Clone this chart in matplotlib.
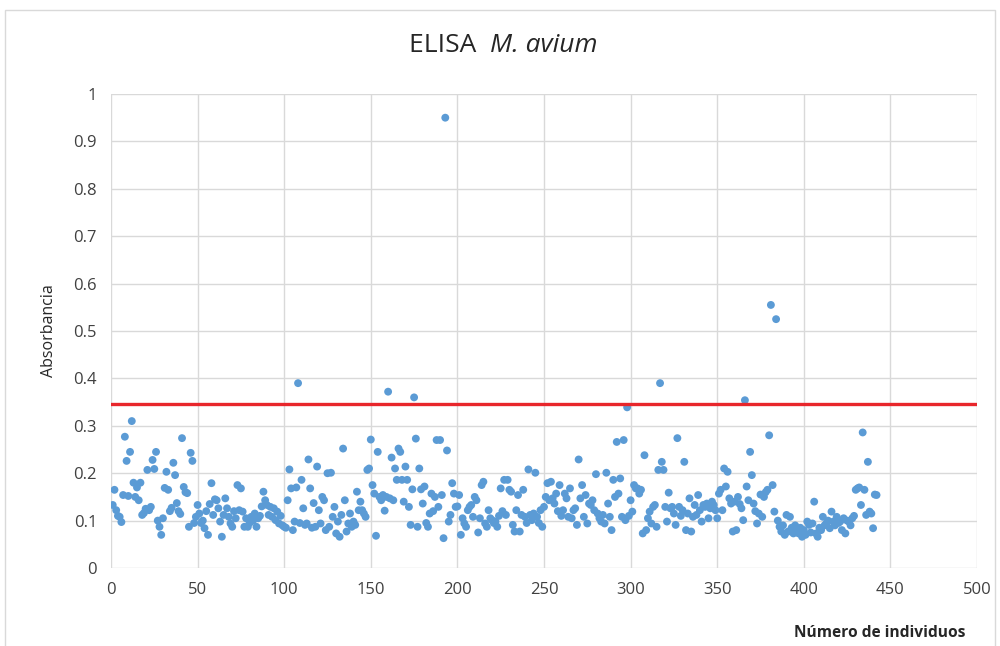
import numpy as np
import matplotlib
matplotlib.use("Agg")
import matplotlib.pyplot as plt
from matplotlib.patches import Rectangle

# Absorbance per individual (individual 1..442)
abs_001_060 = [0.133, 0.165, 0.122, 0.110, 0.108, 0.097, 0.154, 0.277, 0.226, 0.152,
               0.245, 0.310, 0.180, 0.150, 0.170, 0.143, 0.180, 0.112, 0.116, 0.125,
               0.207, 0.122, 0.129, 0.228, 0.209, 0.245, 0.100, 0.087, 0.070, 0.105,
               0.169, 0.203, 0.165, 0.120, 0.127, 0.222, 0.196, 0.137, 0.120, 0.114,
               0.274, 0.171, 0.160, 0.158, 0.087, 0.243, 0.226, 0.095, 0.108, 0.133,
               0.115, 0.095, 0.100, 0.084, 0.120, 0.070, 0.135, 0.179, 0.112, 0.145]
abs_061_125 = [0.143, 0.126, 0.098, 0.066, 0.112, 0.147, 0.126, 0.108, 0.094, 0.087,
               0.120, 0.105, 0.175, 0.122, 0.168, 0.119, 0.087, 0.105, 0.087, 0.095,
               0.108, 0.100, 0.115, 0.087, 0.105, 0.110, 0.130, 0.161, 0.143, 0.133,
               0.112, 0.129, 0.108, 0.126, 0.101, 0.119, 0.094, 0.110, 0.090, 0.087,
               0.085, 0.143, 0.208, 0.168, 0.080, 0.098, 0.170, 0.390, 0.095, 0.186,
               0.126, 0.091, 0.094, 0.229, 0.168, 0.085, 0.137, 0.087, 0.214, 0.122,
               0.094, 0.150, 0.143, 0.080, 0.200]
abs_126_189 = [0.087, 0.201, 0.108, 0.129, 0.073, 0.098, 0.066, 0.112, 0.252, 0.143,
               0.077, 0.094, 0.115, 0.087, 0.098, 0.091, 0.161, 0.122, 0.140, 0.122,
               0.115, 0.108, 0.207, 0.210, 0.271, 0.175, 0.157, 0.068, 0.245, 0.150,
               0.143, 0.154, 0.121, 0.150, 0.372, 0.147, 0.233, 0.143, 0.210, 0.186,
               0.252, 0.245, 0.186, 0.140, 0.214, 0.186, 0.129, 0.091, 0.166, 0.360,
               0.273, 0.087, 0.210, 0.166, 0.136, 0.172, 0.095, 0.087, 0.115, 0.157,
               0.120, 0.150, 0.270, 0.129]
abs_190_252 = [0.270, 0.154, 0.063, 0.950, 0.248, 0.098, 0.112, 0.179, 0.157, 0.129,
               0.130, 0.154, 0.070, 0.105, 0.094, 0.087, 0.122, 0.129, 0.133, 0.108,
               0.150, 0.143, 0.075, 0.105, 0.175, 0.182, 0.094, 0.087, 0.122, 0.105,
               0.101, 0.095, 0.098, 0.087, 0.110, 0.168, 0.120, 0.186, 0.112, 0.186,
               0.165, 0.161, 0.091, 0.077, 0.122, 0.154, 0.077, 0.112, 0.165, 0.108,
               0.095, 0.208, 0.112, 0.101, 0.115, 0.201, 0.108, 0.095, 0.122, 0.087,
               0.129, 0.150, 0.179]
abs_253_316 = [0.143, 0.182, 0.147, 0.136, 0.157, 0.120, 0.175, 0.110, 0.122, 0.157,
               0.147, 0.108, 0.168, 0.105, 0.122, 0.126, 0.091, 0.229, 0.147, 0.175,
               0.108, 0.154, 0.094, 0.136, 0.133, 0.143, 0.122, 0.198, 0.115, 0.105,
               0.098, 0.112, 0.094, 0.201, 0.136, 0.108, 0.080, 0.186, 0.150, 0.266,
               0.157, 0.189, 0.108, 0.270, 0.101, 0.339, 0.110, 0.143, 0.119, 0.175,
               0.168, 0.168, 0.157, 0.165, 0.073, 0.238, 0.080, 0.105, 0.119, 0.094,
               0.129, 0.133, 0.087, 0.207]
abs_317_380 = [0.390, 0.224, 0.207, 0.129, 0.098, 0.159, 0.126, 0.129, 0.115, 0.091,
               0.274, 0.129, 0.110, 0.122, 0.224, 0.080, 0.115, 0.147, 0.077, 0.108,
               0.133, 0.112, 0.154, 0.122, 0.098, 0.133, 0.129, 0.136, 0.105, 0.126,
               0.140, 0.133, 0.122, 0.105, 0.157, 0.165, 0.122, 0.210, 0.172, 0.203,
               0.147, 0.136, 0.077, 0.140, 0.080, 0.150, 0.135, 0.126, 0.101, 0.354,
               0.172, 0.143, 0.245, 0.196, 0.136, 0.120, 0.094, 0.115, 0.155, 0.108,
               0.150, 0.160, 0.165, 0.280]
abs_381_442 = [0.555, 0.175, 0.119, 0.525, 0.100, 0.087, 0.077, 0.090, 0.070, 0.112,
               0.077, 0.108, 0.085, 0.073, 0.090, 0.080, 0.073, 0.085, 0.066, 0.080,
               0.070, 0.098, 0.091, 0.075, 0.094, 0.140, 0.073, 0.066, 0.085, 0.080,
               0.108, 0.090, 0.094, 0.100, 0.084, 0.119, 0.098, 0.090, 0.108, 0.095,
               0.098, 0.080, 0.105, 0.073, 0.100, 0.098, 0.090, 0.105, 0.110, 0.165,
               0.168, 0.170, 0.133, 0.286, 0.165, 0.112, 0.224, 0.119, 0.115, 0.084,
               0.155, 0.154]

cutoff = 0.345

absorbance = np.array(abs_001_060 + abs_061_125 + abs_126_189 + abs_190_252
                      + abs_253_316 + abs_317_380 + abs_381_442)
individuals = np.arange(1, len(absorbance) + 1)

x_ticks = list(range(0, 501, 50))
y_ticks = [0, 0.1, 0.2, 0.3, 0.4, 0.5, 0.6, 0.7, 0.8, 0.9, 1]
y_labels = ["0", "0.1", "0.2", "0.3", "0.4", "0.5", "0.6", "0.7", "0.8", "0.9", "1"]

plt.rcParams["font.family"] = ["Open Sans", "DejaVu Sans"]

fig = plt.figure(figsize=(10, 6.46), dpi=100)
fig.patch.set_facecolor("white")
# light frame around the whole chart
fig.patches.append(Rectangle((0.005, -0.01), 0.99, 0.995, transform=fig.transFigure,
                             fill=False, edgecolor="#d9d9d9", lw=1))

ax = fig.add_axes([0.111, 0.1207, 0.866, 0.7338])
ax.scatter(individuals, absorbance, s=32, color="#5b9bd5", edgecolors="none", zorder=3)
ax.axhline(cutoff, color="#e8262b", lw=2.4, zorder=4)

ax.set_xlim(0, 500)
ax.set_ylim(0, 1)
ax.set_xticks(x_ticks)
ax.set_yticks(y_ticks)
ax.set_yticklabels(y_labels)
ax.grid(True, color="#d9d9d9", lw=1)
ax.set_axisbelow(True)
for s in ax.spines.values():
    s.set_visible(False)
ax.tick_params(length=0, labelsize=12, labelcolor="#404040", pad=10)

ax.set_ylabel("Absorbancia", fontsize=11.5, color="#262626", labelpad=12)
fig.text(0.88, 0.02, "Número de individuos", fontsize=11.2, fontweight="bold",
         color="#262626", ha="center", va="center")
fig.text(0.49, 0.93, "ELISA  ", fontsize=19, ha="right", va="center", color="#262626")
fig.text(0.49, 0.93, "M. avium", fontsize=19, style="italic", ha="left", va="center",
         color="#262626")

fig.savefig("out.png", dpi=100, facecolor="white")
